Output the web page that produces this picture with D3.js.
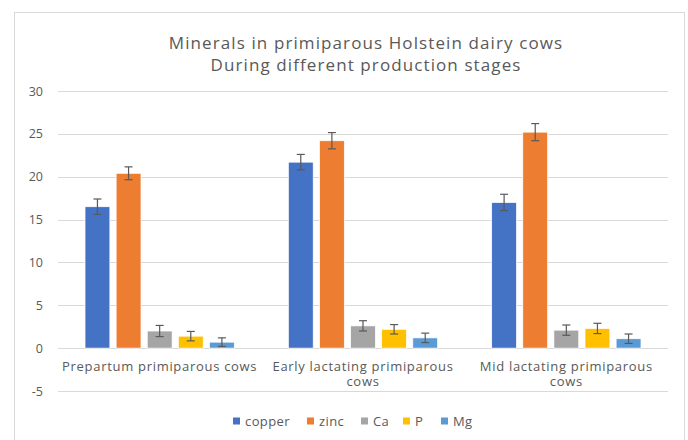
<!DOCTYPE html>
<html>
<head>
<meta charset="utf-8">
<script src="https://cdn.jsdelivr.net/npm/d3@7"></script>
<style>
  body { margin: 0; background: #fff; }
  svg { font-family: "Open Sans", "Liberation Sans", sans-serif; }
</style>
</head>
<body>
<script>
// chart data
var stages = [["Prepartum primiparous cows"], ["Early lactating primiparous", "cows"], ["Mid lactating primiparous", "cows"]];
var minerals = ["copper", "zinc", "Ca", "P", "Mg"];
var colors = ["#4472C4", "#ED7D31", "#A5A5A5", "#FFC000", "#5B9BD5"];
var copper = [16.5, 21.7, 17.0];
var zinc = [20.4, 24.2, 25.2];
var ca = [2.0, 2.6, 2.1];
var p = [1.4, 2.2, 2.3];
var mg = [0.7, 1.2, 1.1];
var copperErr = [0.9, 0.9, 0.95];
var zincErr = [0.75, 0.95, 1.0];
var caErr = [0.65, 0.6, 0.6];
var pErr = [0.55, 0.55, 0.6];
var mgErr = [0.5, 0.55, 0.55];
var yTicks = [-5, 0, 5, 10, 15, 20, 25, 30];

var series = [copper, zinc, ca, p, mg];
var errors = [copperErr, zincErr, caErr, pErr, mgErr];

var w = 688, h = 440;
var plotLeft = 58, plotRight = 668, plotTop = 91, plotBottom = 391;

var svg = d3.select("body").append("svg").attr("width", w).attr("height", h);

// chart frame
svg.append("rect")
    .attr("x", 14.5).attr("y", 12.5)
    .attr("width", 670).attr("height", 440)
    .attr("fill", "#fff").attr("stroke", "#d9d9d9");

var yScale = d3.scaleLinear().domain([-5, 30]).range([plotBottom, plotTop]);
var xScale = d3.scaleBand().domain(d3.range(stages.length)).range([plotLeft, plotRight]);
var xInner = d3.scaleBand().domain(d3.range(minerals.length))
    .range([27, xScale.bandwidth() - 27]).paddingInner(0.2);

// grid lines + labels
svg.append("g").selectAll("line").data(yTicks).enter().append("line")
    .attr("x1", plotLeft).attr("x2", plotRight)
    .attr("y1", function (d) { return Math.round(yScale(d)) + 0.5; })
    .attr("y2", function (d) { return Math.round(yScale(d)) + 0.5; })
    .attr("stroke", "#d9d9d9").attr("stroke-width", 1);

svg.append("g").selectAll("text").data(yTicks).enter().append("text")
    .attr("x", 43)
    .attr("y", function (d) { return yScale(d) + 4.5; })
    .attr("text-anchor", "end")
    .attr("font-size", 12.5).attr("fill", "#595959")
    .text(function (d) { return d; });

// bars
series.forEach(function (vals, si) {
    var g = svg.append("g");
    g.selectAll("rect").data(vals).enter().append("rect")
        .attr("x", function (d, i) { return xScale(i) + xInner(si); })
        .attr("y", function (d) { return yScale(d); })
        .attr("width", xInner.bandwidth())
        .attr("height", function (d) { return yScale(0) - yScale(d); })
        .attr("fill", colors[si])
        .attr("stroke", "#fff").attr("stroke-width", 0.75);

    // error bars
    var eb = g.selectAll("g.err").data(vals).enter().append("g").attr("class", "err");
    eb.each(function (d, i) {
        var cx = xScale(i) + xInner(si) + xInner.bandwidth() / 2;
        var e = errors[si][i];
        var sel = d3.select(this);
        sel.append("line").attr("x1", cx).attr("x2", cx)
            .attr("y1", yScale(d + e)).attr("y2", yScale(d - e));
        sel.append("line").attr("x1", cx - 4).attr("x2", cx + 4)
            .attr("y1", yScale(d + e)).attr("y2", yScale(d + e));
        sel.append("line").attr("x1", cx - 4).attr("x2", cx + 4)
            .attr("y1", yScale(d - e)).attr("y2", yScale(d - e));
        sel.selectAll("line").attr("stroke", "#595959").attr("stroke-width", 1.2);
    });
});

// category labels
stages.forEach(function (lines, i) {
    var cx = xScale(i) + xScale.bandwidth() / 2;
    var t = svg.append("text")
        .attr("x", cx)
        .attr("y", 371)
        .attr("text-anchor", "middle")
        .attr("font-size", 13).attr("letter-spacing", 0.7).attr("fill", "#595959");
    lines.forEach(function (s, j) {
        t.append("tspan").attr("x", cx)
            .attr("dy", j === 0 ? 0 : 15).text(s);
    });
});

// title
svg.append("text").attr("x", 366).attr("y", 49)
    .attr("text-anchor", "middle").attr("font-size", 17).attr("letter-spacing", 1.1).attr("fill", "#595959")
    .text("Minerals in primiparous Holstein dairy cows");
svg.append("text").attr("x", 366).attr("y", 71)
    .attr("text-anchor", "middle").attr("font-size", 17).attr("letter-spacing", 1.1).attr("fill", "#595959")
    .text("During different production  stages");

// legend
var legendX = [233, 307, 361, 403, 441];
var legend = svg.append("g").selectAll("g").data(minerals).enter().append("g")
    .attr("transform", function (d, i) { return "translate(" + legendX[i] + ",421)"; });
legend.append("rect").attr("x", 0).attr("y", -3.5).attr("width", 7).attr("height", 7)
    .attr("fill", function (d, i) { return colors[i]; });
legend.append("text").attr("x", 12).attr("y", 4.5)
    .attr("font-size", 13).attr("letter-spacing", 0.4).attr("fill", "#595959")
    .text(function (d) { return d; });
</script>
</body>
</html>
